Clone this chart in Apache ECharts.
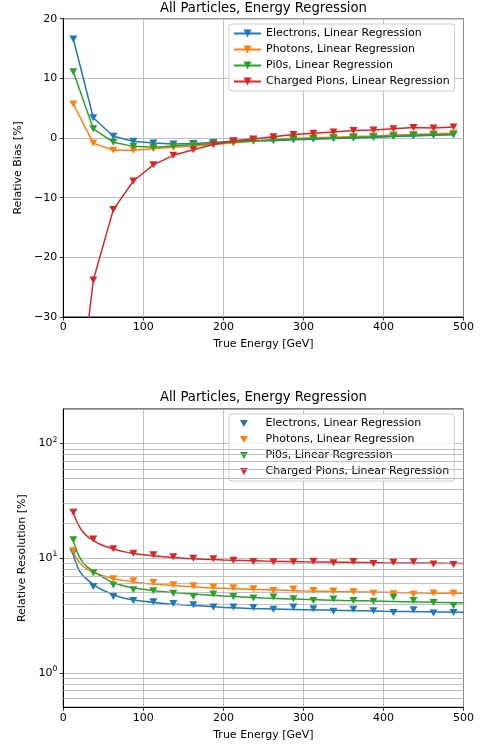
<!DOCTYPE html>
<html>
<head>
<meta charset="utf-8">
<script src="https://cdn.jsdelivr.net/npm/echarts@6/dist/echarts.min.js"></script>
<style>
html,body{margin:0;padding:0;background:#fff;}
#chart{width:486px;height:746px;}
</style>
</head>
<body>
<div id="chart"></div>
<script>
// ---------- data ----------
const seriesNames = ['Electrons, Linear Regression', 'Photons, Linear Regression', 'Pi0s, Linear Regression', 'Charged Pions, Linear Regression'];
const colors = ['#1f77b4', '#ff7f0e', '#2ca02c', '#d62728'];

const energies = [12.5, 37.5, 62.5, 87.5, 112.5, 137.5, 162.5, 187.5, 212.5, 237.5, 262.5, 287.5, 312.5, 337.5, 362.5, 387.5, 412.5, 437.5, 462.5, 487.5];

const biasElectrons = [16.6, 3.4, 0.3, -0.55, -0.85, -1.0, -0.9, -0.75, -0.55, -0.4, -0.45, -0.3, -0.2, -0.1, 0.0, 0.1, 0.25, 0.35, 0.45, 0.55];
const biasPhotons   = [5.7, -0.85, -2.05, -2.05, -1.8, -1.55, -1.35, -1.1, -0.85, -0.55, -0.25, -0.05, 0.05, 0.15, 0.25, 0.35, 0.5, 0.6, 0.7, 0.8];
const biasPi0s      = [11.1, 1.55, -0.7, -1.4, -1.55, -1.35, -1.1, -0.95, -0.65, -0.5, -0.35, -0.2, -0.1, 0.0, 0.1, 0.2, 0.35, 0.45, 0.55, 0.65];
const biasCharged   = [-52, -23.8, -12.0, -7.2, -4.5, -2.9, -1.95, -1.1, -0.45, -0.15, 0.2, 0.6, 0.8, 1.0, 1.25, 1.35, 1.55, 1.75, 1.7, 1.85];

const resElectrons = [11.2, 5.67, 4.64, 4.28, 4.17, 4.03, 3.93, 3.75, 3.75, 3.72, 3.58, 3.75, 3.62, 3.44, 3.58, 3.48, 3.35, 3.55, 3.33, 3.35];
const resPhotons   = [11.6, 7.5, 6.6, 6.35, 6.14, 5.86, 5.74, 5.6, 5.52, 5.41, 5.23, 5.37, 5.23, 5.16, 5.1, 4.93, 4.9, 4.84, 4.96, 4.93];
const resPi0s      = [14.5, 7.45, 5.82, 5.3, 5.2, 4.93, 4.64, 4.86, 4.62, 4.49, 4.58, 4.43, 4.28, 4.4, 4.28, 4.2, 4.55, 4.28, 4.11, 3.87];
const resCharged   = [25.1, 14.7, 12.05, 11.05, 10.7, 10.3, 10.0, 9.87, 9.6, 9.35, 9.3, 9.3, 9.4, 9.1, 9.35, 8.99, 9.2, 9.3, 8.9, 8.8];

// fitted resolution curves
const fitEnergies  = [12.5, 15, 20, 25, 30, 37.5, 45, 55, 62.5, 75, 87.5, 100, 125, 150, 175, 200, 250, 300, 350, 400, 450, 500];
const fitElectrons = [10.8, 9.4, 7.8, 7.0, 6.5, 5.9, 5.45, 5.05, 4.8, 4.5, 4.33, 4.2, 4.03, 3.92, 3.82, 3.72, 3.62, 3.55, 3.5, 3.45, 3.41, 3.38];
const fitPhotons   = [11.3, 10.4, 9.2, 8.5, 8.0, 7.55, 7.2, 6.85, 6.65, 6.4, 6.2, 6.05, 5.85, 5.7, 5.55, 5.45, 5.3, 5.18, 5.1, 5.03, 4.97, 4.93];
const fitPi0s      = [14.5, 12.5, 10.3, 9.1, 8.4, 7.7, 7.1, 6.5, 6.1, 5.75, 5.5, 5.35, 5.1, 4.95, 4.8, 4.68, 4.5, 4.37, 4.28, 4.21, 4.14, 4.08];
const fitCharged   = [25.0, 22.3, 18.8, 16.8, 15.5, 14.3, 13.3, 12.5, 12.0, 11.4, 11.0, 10.7, 10.3, 10.0, 9.8, 9.65, 9.45, 9.3, 9.2, 9.1, 9.05, 9.0];

const minorGridValues = [0.6, 0.7, 0.8, 0.9, 2, 3, 4, 5, 6, 7, 8, 9, 20, 30, 40, 50, 60, 70, 80, 90];

const titleText = 'All Particles, Energy Regression';
const xName = 'True Energy [GeV]';

// ---------- chart ----------
const FONT = 'DejaVu Sans';
const FS = 11;
const GRID_COLOR = '#b0b0b0';
const chart = echarts.init(document.getElementById('chart'), null, {renderer: 'canvas'});

const biasArrays = [biasElectrons, biasPhotons, biasPi0s, biasCharged];
const resArrays = [resElectrons, resPhotons, resPi0s, resCharged];
const fitArrays = [fitElectrons, fitPhotons, fitPi0s, fitCharged];
// bottom-panel series get an invisible suffix so their legend shows the marker-only icon
const resNames = seriesNames.map(n => n + '\u200B');
const DOWN_TRIANGLE = 'path://M0,0 L10,0 L5,9 Z';

const pair = (xs, ys) => xs.map((x, i) => [x, ys[i]]);

function xAxisCfg(gridIndex) {
  return {
    gridIndex, type: 'value', min: 0, max: 500, interval: 100,
    name: xName, nameLocation: 'middle', nameGap: 22,
    nameTextStyle: {fontFamily: FONT, fontSize: FS, color: '#000'},
    axisLine: {show: true, onZero: false, lineStyle: {color: '#000', width: 1}},
    axisTick: {show: true, length: 3.5, inside: false, lineStyle: {color: '#000', width: 0.8}},
    axisLabel: {fontFamily: FONT, fontSize: FS, color: '#000', margin: 5},
    splitLine: {show: true, lineStyle: {color: GRID_COLOR, width: 0.8}}
  };
}

const series = [];
// top: bias lines
seriesNames.forEach((n, k) => {
  series.push({
    name: n, type: 'line', xAxisIndex: 0, yAxisIndex: 0,
    data: pair(energies, biasArrays[k]),
    symbol: 'triangle', symbolRotate: 180, symbolSize: [8, 7], showSymbol: true,
    lineStyle: {color: colors[k], width: 1.5},
    itemStyle: {color: colors[k]},
    clip: true, animation: false, z: 3 + k
  });
});
// bottom: fitted curves
seriesNames.forEach((n, k) => {
  const s = {
    name: 'fit_' + k, type: 'line', xAxisIndex: 1, yAxisIndex: 1,
    data: pair(fitEnergies, fitArrays[k]),
    symbol: 'none', smooth: 0.3,
    lineStyle: {color: colors[k], width: 1.5},
    itemStyle: {color: colors[k]},
    clip: true, animation: false, z: 3
  };
  if (k === 0) {
    s.markLine = {
      silent: true, symbol: 'none', animation: false,
      label: {show: false},
      lineStyle: {color: GRID_COLOR, width: 0.8, type: 'solid'},
      emphasis: {disabled: true},
      data: minorGridValues.map(v => ({yAxis: v}))
    };
  }
  series.push(s);
});
// bottom: resolution markers
resNames.forEach((n, k) => {
  series.push({
    name: n, type: 'scatter', xAxisIndex: 1, yAxisIndex: 1,
    data: pair(energies, resArrays[k]),
    symbol: 'triangle', symbolRotate: 180, symbolSize: [8, 7],
    itemStyle: {color: colors[k], opacity: 1},
    animation: false, z: 5
  });
});

const legendBase = {
  show: true, orient: 'vertical', left: 229,
  backgroundColor: 'rgba(255,255,255,0.8)', borderColor: '#cccccc', borderWidth: 1, borderRadius: 3,
  selectedMode: false
};

const topLegend = Object.assign({}, legendBase, {
  top: 24,
  data: seriesNames.slice(),
  itemWidth: 27, itemHeight: 10, itemGap: 5,
  padding: [4, 5, 4, 4],
  textStyle: {fontFamily: FONT, fontSize: FS, color: '#000'},
  symbolRotate: 'inherit'
});

const botLegend = Object.assign({}, legendBase, {
  top: 414,
  data: resNames.map(n => ({name: n, icon: DOWN_TRIANGLE})),
  itemWidth: 8, itemHeight: 7, itemGap: 5,
  padding: [4, 5, 4, 11],
  textStyle: {fontFamily: FONT, fontSize: FS, color: '#000', padding: [0, 0, 0, 12.7]}
});

const option = {
  backgroundColor: '#fff',
  animation: false,
  title: [
    {text: titleText, left: 263.4, top: 2, textAlign: 'center', padding: 0,
     textStyle: {fontFamily: FONT, fontSize: 13.2, fontWeight: 'normal', color: '#000'}},
    {text: titleText, left: 263.4, top: 391.5, textAlign: 'center', padding: 0,
     textStyle: {fontFamily: FONT, fontSize: 13.2, fontWeight: 'normal', color: '#000'}}
  ],
  grid: [
    {left: 63.3, top: 18.7, width: 400.2, height: 298.3, show: true, borderColor: '#000', borderWidth: 1, backgroundColor: 'transparent'},
    {left: 63.3, top: 409, width: 400.2, height: 298.3, show: true, borderColor: '#000', borderWidth: 1, backgroundColor: 'transparent'}
  ],
  xAxis: [xAxisCfg(0), xAxisCfg(1)],
  yAxis: [
    {
      gridIndex: 0, type: 'value', min: -30, max: 20, interval: 10,
      name: 'Relative Bias [%]', nameLocation: 'middle', nameGap: 32,
      nameTextStyle: {fontFamily: FONT, fontSize: FS, color: '#000'},
      axisLine: {show: true, onZero: false, lineStyle: {color: '#000', width: 1}},
      axisTick: {show: true, length: 3.5, lineStyle: {color: '#000', width: 0.8}},
      axisLabel: {fontFamily: FONT, fontSize: FS, color: '#000', margin: 6,
        formatter: v => (v < 0 ? '\u2212' + Math.abs(v) : String(v))},
      splitLine: {show: true, lineStyle: {color: GRID_COLOR, width: 0.8}}
    },
    {
      gridIndex: 1, type: 'log', logBase: 10, min: 0.5, max: 200,
      name: 'Relative Resolution [%]', nameLocation: 'middle', nameGap: 28,
      nameTextStyle: {fontFamily: FONT, fontSize: FS, color: '#000'},
      axisLine: {show: true, onZero: false, lineStyle: {color: '#000', width: 1}},
      axisTick: {show: true, length: 3.5, lineStyle: {color: '#000', width: 0.8}},
      axisLabel: {
        fontFamily: FONT, fontSize: FS, color: '#000', margin: 6,
        showMinLabel: false, showMaxLabel: false,
        formatter: function (v) {
          const l = Math.log10(v);
          if (Math.abs(l - Math.round(l)) < 1e-6) return '{b|10}{s|' + Math.round(l) + '}';
          return '';
        },
        rich: {
          b: {fontFamily: FONT, fontSize: FS, color: '#000'},
          s: {fontFamily: FONT, fontSize: 7.7, color: '#000', padding: [0, 0, 8, 0]}
        }
      },
      splitLine: {show: true, lineStyle: {color: GRID_COLOR, width: 0.8}}
    }
  ],
  legend: [topLegend, botLegend],
  series: series
};
chart.setOption(option);
</script>
</body>
</html>
